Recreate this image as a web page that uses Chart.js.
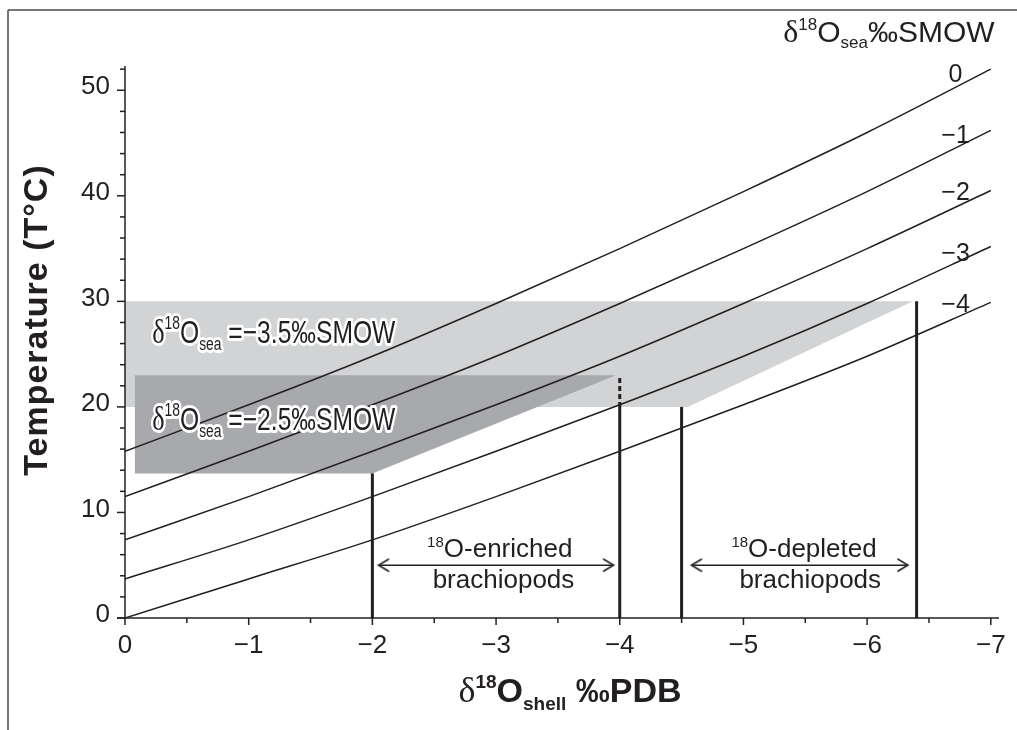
<!DOCTYPE html>
<html><head><meta charset="utf-8">
<script src="https://cdn.jsdelivr.net/npm/chart.js@4.4.0/dist/chart.umd.min.js"></script>
<style>html,body{margin:0;padding:0;background:#fff}canvas{display:block}</style>
</head><body>
<canvas id="c" width="1017" height="730"></canvas>
<script>
// ---------- data ----------
const shellValues = [0, -1, -2, -3, -4, -5, -6, -7];          // δ18O shell ‰PDB
const seaLabels   = ['0', '−1', '−2', '−3', '−4'];             // δ18O sea ‰SMOW
const curveSea0   = [15.8, 20.2, 24.8, 29.8, 35.0, 40.4, 46.0, 52.0];
const curveSeaM1  = [11.5, 15.8, 20.2, 24.8, 29.8, 35.0, 40.4, 46.2];
const curveSeaM2  = [7.4, 11.5, 15.8, 20.2, 24.8, 29.8, 35.0, 40.5];
const curveSeaM3  = [3.7, 7.4, 11.5, 15.8, 20.2, 24.8, 29.8, 35.2];
const curveSeaM4  = [0.0, 3.7, 7.4, 11.5, 15.8, 20.2, 24.8, 29.9];

const xTickValues = [0, -1, -2, -3, -4, -5, -6, -7];
const xTickLabels = ['0', '−1', '−2', '−3', '−4', '−5', '−6', '−7'];
const yTickValues = [0, 10, 20, 30, 40, 50];
const yTickLabels = ['0', '10', '20', '30', '40', '50'];

// shaded fields (δ18Osea = −3.5 light, −2.5 dark)
const lightBandX = [0, -6.37, -4.55, 0];
const lightBandY = [30, 30, 20, 20];
const darkBandX  = [-0.08, -3.97, -2.0, -0.08];
const darkBandY  = [23, 23, 13.7, 13.7];

// vertical dividers
const dividerX   = [-2, -4, -4.5, -6.4];
const dividerTop = [13.7, 20, 20, 30];
const dashedX    = [-4, -4];
const dashedY    = [20, 23];

// double arrows
const arrowEnrichedX = [-2.05, -3.95];
const arrowDepletedX = [-4.58, -6.33];
const arrowT = 5.0;

const xMin = -7.05, xMax = 0, yMin = 0, yMax = 52.3;

// ---------- helpers ----------
const INK = '#231f20';
const SANS = '"Liberation Sans", Arial, Helvetica, sans-serif';
const SERIF = '"Liberation Serif", "Times New Roman", serif';
const pts = (xs, ys) => xs.map((x, i) => ({x, y: ys[i]}));

const head = document.createElement('canvas');
head.width = 24; head.height = 16;
(function(){
  const c = head.getContext('2d');
  c.strokeStyle = INK; c.lineWidth = 1.6; c.lineCap = 'round';
  c.beginPath(); c.moveTo(22, 2); c.lineTo(12, 8); c.lineTo(22, 14); c.stroke();
})();

const curveSets = [curveSea0, curveSeaM1, curveSeaM2, curveSeaM3, curveSeaM4];
const datasets = [];
curveSets.forEach((arr, i) => datasets.push({
  label: 'δ18Osea ' + seaLabels[i],
  data: pts(shellValues, arr),
  borderColor: INK, borderWidth: 1.5, pointRadius: 0,
  cubicInterpolationMode: 'monotone', fill: false, order: 1
}));
dividerX.forEach((x, i) => datasets.push({
  data: pts([x, x], [0, dividerTop[i]]),
  borderColor: INK, borderWidth: 3, pointRadius: 0, fill: false, order: 0
}));
datasets.push({
  data: pts(dashedX, dashedY), borderColor: INK, borderWidth: 3,
  borderDash: [5, 3], pointRadius: 0, fill: false, order: 0
});
[arrowEnrichedX, arrowDepletedX].forEach(ax => datasets.push({
  data: pts(ax, [arrowT, arrowT]), borderColor: INK, borderWidth: 1.5,
  pointStyle: head, pointRadius: 4, pointRotation: [0, 180], fill: false, order: 0
}));
datasets.push({
  data: pts(darkBandX, darkBandY), borderWidth: 0, borderColor: 'rgba(0,0,0,0)',
  backgroundColor: '#a7a9ac', fill: 'shape', pointRadius: 0, tension: 0, order: 10
});
datasets.push({
  data: pts(lightBandX, lightBandY), borderWidth: 0, borderColor: 'rgba(0,0,0,0)',
  backgroundColor: '#d1d3d4', fill: 'shape', pointRadius: 0, tension: 0, order: 20
});

// text annotations anchored in data units
const seaCurveLabelPos = [
  {x: -6.77, y: 50.8}, {x: -6.83, y: 45.0}, {x: -6.83, y: 39.6}, {x: -6.83, y: 33.8}, {x: -6.83, y: 29.0}
];

function drawRuns(ctx, parts, x, y, align, mode) {
  let w = 0;
  parts.forEach(p => { ctx.font = p.f; p.w = ctx.measureText(p.t).width; w += p.w; });
  let cx = align === 'right' ? x - w : align === 'center' ? x - w / 2 : x;
  parts.forEach(p => {
    ctx.font = p.f;
    if (mode === 'stroke') ctx.strokeText(p.t, cx, y + (p.dy || 0));
    else ctx.fillText(p.t, cx, y + (p.dy || 0));
    cx += p.w;
  });
}

const decor = {
  id: 'decor',
  afterDatasetsDraw(chart) {
    const {ctx, scales: {x, y}} = chart;
    const x0 = x.getPixelForValue(0), y0 = y.getPixelForValue(0);
    const line = (a, b, c, d) => { ctx.beginPath(); ctx.moveTo(a, b); ctx.lineTo(c, d); ctx.stroke(); };
    ctx.save();
    // frame
    ctx.strokeStyle = '#4a4a4a'; ctx.lineWidth = 1.5;
    line(8, 10, 8, 730); line(8, 10, 1017, 10);
    // axes
    ctx.strokeStyle = INK; ctx.lineWidth = 1.5;
    line(x0, y0 + 0.5, x0, y.getPixelForValue(yMax));
    line(x0 - 8, y0, x.getPixelForValue(xMin) + 2, y0);
    for (let v = 0; v <= 52; v += 2) {
      const py = y.getPixelForValue(v);
      line(x0 - (v % 10 === 0 ? 8 : 5), py, x0, py);
    }
    for (let k = 0; k <= 14; k++) {
      const px = x.getPixelForValue(-k / 2);
      line(px, y0, px, y0 + (k % 2 === 0 ? 7 : 5));
    }

    ctx.fillStyle = INK;
    ctx.textBaseline = 'alphabetic';
    // curve labels
    ctx.font = '25px ' + SANS; ctx.textAlign = 'right';
    seaLabels.forEach((t, i) => {
      ctx.fillText(t, x.getPixelForValue(seaCurveLabelPos[i].x), y.getPixelForValue(seaCurveLabelPos[i].y));
    });
    ctx.textAlign = 'left';
    // top-right legend title
    drawRuns(ctx, [
      {t: 'δ', f: '32px ' + SERIF},
      {t: '18', f: '17px ' + SANS, dy: -12},
      {t: 'O', f: '30px ' + SANS},
      {t: 'sea', f: '17px ' + SANS, dy: 6},
      {t: '‰SMOW', f: '30px ' + SANS}
    ], x.getPixelForValue(-7.03), y.getPixelForValue(54.6), 'right');

    // brachiopod labels
    const brach = (cxv) => {
      const cx = x.getPixelForValue(cxv);
      return cx;
    };
    [[ -3.03, '-enriched', -3.06], [-5.49, '-depleted', -5.54]].forEach(([c1, word, c2]) => {
      drawRuns(ctx, [
        {t: '18', f: '15px ' + SANS, dy: -10},
        {t: 'O' + word, f: '26px ' + SANS}
      ], brach(c1), y.getPixelForValue(5.8), 'center');
      ctx.font = '26px ' + SANS; ctx.textAlign = 'center';
      ctx.fillText('brachiopods', brach(c2), y.getPixelForValue(2.85));
      ctx.textAlign = 'left';
    });

    // outlined region labels (condensed)
    const regionLabel = (val, tx, ty) => {
      const parts = [
        {t: 'δ', f: '34px ' + SERIF},
        {t: '18', f: '18px ' + SANS, dy: -14},
        {t: 'O', f: '32px ' + SANS},
        {t: 'sea', f: '18px ' + SANS, dy: 7},
        {t: ' =', f: '32px ' + SANS},
        {t: val + '‰SMOW', f: '32px ' + SANS}
      ];
      ctx.save();
      ctx.translate(x.getPixelForValue(tx), y.getPixelForValue(ty));
      ctx.scale(0.77, 1);
      ctx.lineJoin = 'round'; ctx.strokeStyle = '#ffffff'; ctx.lineWidth = 6;
      drawRuns(ctx, parts, 0, 0, 'left', 'stroke');
      ctx.fillStyle = INK;
      drawRuns(ctx, parts, 0, 0, 'left', 'fill');
      ctx.restore();
    };
    regionLabel('−3.5', -0.22, 26.1);
    regionLabel('−2.5', -0.22, 17.8);

    // axis titles
    drawRuns(ctx, [
      {t: 'δ', f: '36px ' + SERIF},
      {t: '18', f: 'bold 19px ' + SANS, dy: -14},
      {t: 'O', f: 'bold 34px ' + SANS},
      {t: 'shell', f: 'bold 19px ' + SANS, dy: 8},
      {t: ' ‰PDB', f: 'bold 34px ' + SANS}
    ], 570, 702, 'center');

    ctx.save();
    ctx.translate(47, 320);
    ctx.rotate(-Math.PI / 2);
    ctx.font = 'bold 34px ' + SANS;
    try { ctx.letterSpacing = '1px'; } catch (e) {}
    ctx.textAlign = 'center';
    ctx.fillText('Temperature (T°C)', 0, 0);
    ctx.restore();

    ctx.restore();
  }
};

new Chart(document.getElementById('c'), {
  type: 'line',
  data: {datasets},
  options: {
    responsive: false, animation: false, parsing: true,
    layout: {padding: {left: 8, top: 66, right: 20, bottom: 0}},
    plugins: {legend: {display: false}, tooltip: {enabled: false}},
    scales: {
      x: {
        type: 'linear', min: xMin, max: xMax, reverse: true,
        grid: {display: false, drawTicks: false}, border: {display: false},
        afterBuildTicks: s => { s.ticks = xTickValues.map(v => ({value: v})); },
        afterFit: s => { s.height = 112; s.paddingLeft = 0; s.paddingRight = 0; },
        ticks: {
          padding: 12, color: INK, font: {size: 26, family: SANS},
          maxRotation: 0, autoSkip: false,
          callback: (v) => xTickLabels[xTickValues.indexOf(v)]
        }
      },
      y: {
        type: 'linear', min: yMin, max: yMax,
        grid: {display: false, drawTicks: false}, border: {display: false},
        afterBuildTicks: s => { s.ticks = yTickValues.map(v => ({value: v})); },
        afterFit: s => { s.width = 117; s.paddingTop = 0; s.paddingBottom = 0; },
        ticks: {
          padding: 15, color: INK, font: {size: 26, family: SANS}, labelOffset: -3,
          callback: (v) => yTickLabels[yTickValues.indexOf(v)]
        }
      }
    }
  },
  plugins: [decor]
});
</script>
</body></html>
